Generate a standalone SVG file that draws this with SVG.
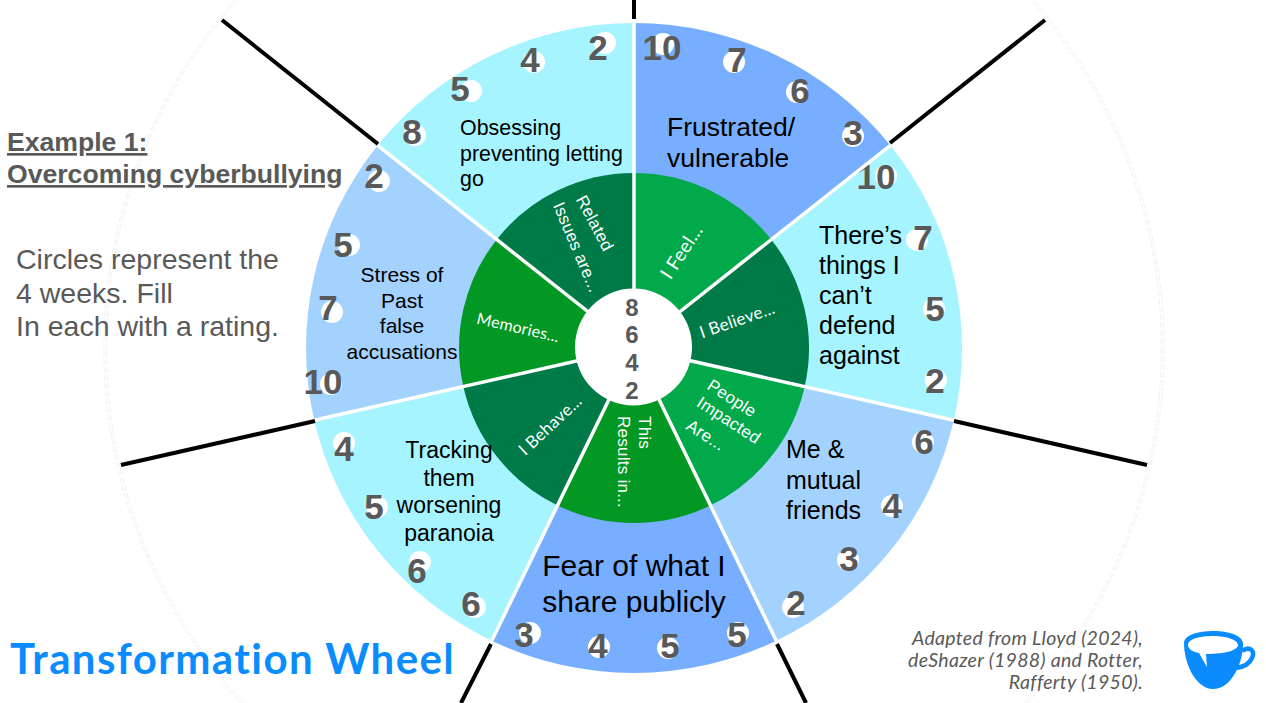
<svg xmlns="http://www.w3.org/2000/svg" width="1266" height="703" viewBox="0 0 1266 703">
  <style>
    text { font-family: "Liberation Sans", Arial, sans-serif; }
    .num { font-size: 35px; font-weight: 700; fill: #595959; text-anchor: middle; }
    .dot { fill: #fff; }
    .label { fill: #000; }
    .mid { text-anchor: middle; }
    .inner { font-family: "Lato", "Noto Sans", sans-serif; fill: #fff; letter-spacing: 0.25px; }
    .spoke { stroke: #fff; stroke-width: 3.5; fill: none; }
    .tick { stroke: #000; stroke-width: 4; fill: none; }
    .rim { stroke: #f0f0f0; stroke-width: 1; fill: none; stroke-dasharray: 6 2; }
    .blue { fill: #78aeff; } .cyan { fill: #a6f4ff; } .pale { fill: #a4d2ff; }
    .g1 { fill: #02a94b; } .g2 { fill: #007a47; } .g3 { fill: #029823; }
    .note { fill: #595959; }
  </style>

  <circle class="rim" cx="634" cy="348" r="530"/>
  <circle class="rim" cx="634" cy="348" r="527.5"/>

  <g id="sector-feel">
    <path class="blue" d="M634,348 L634,23 A328,325 0 0 1 890.4,145.4 Z"/>
    <path class="g1" d="M634,348 L634,173 A175,175 0 0 1 770.8,238.9 Z"/>
    <text class="inner mid" font-size="19" transform="translate(682,252) rotate(-57)" y="6">I Feel...</text>
    <text class="label" font-size="26.5"><tspan x="667" y="136">Frustrated/</tspan><tspan x="667" y="167">vulnerable</tspan></text>
    <circle class="dot" cx="663" cy="44" r="11"/><text class="num" x="662" y="60">10</text>
    <circle class="dot" cx="734" cy="62" r="11"/><text class="num" x="737" y="72">7</text>
    <circle class="dot" cx="797" cy="92" r="11"/><text class="num" x="800" y="103">6</text>
    <circle class="dot" cx="853" cy="136" r="11"/><text class="num" x="853" y="145">3</text>
  </g>

  <g id="sector-believe">
    <path class="cyan" d="M634,348 L890.4,145.4 A328,325 0 0 1 953.8,420.3 Z"/>
    <path class="g2" d="M634,348 L770.8,238.9 A175,175 0 0 1 804.6,386.9 Z"/>
    <text class="inner mid" font-size="17" transform="translate(737,320) rotate(-19)" y="6">I Believe...</text>
    <text class="label" font-size="25"><tspan x="819" y="244">There’s</tspan><tspan x="819" y="274">things I</tspan><tspan x="819" y="304">can’t</tspan><tspan x="819" y="334">defend</tspan><tspan x="819" y="364">against</tspan></text>
    <circle class="dot" cx="886" cy="176" r="11"/><text class="num" x="876" y="189">10</text>
    <circle class="dot" cx="917" cy="240" r="11"/><text class="num" x="923" y="250">7</text>
    <circle class="dot" cx="934" cy="309" r="11"/><text class="num" x="935" y="321">5</text>
    <circle class="dot" cx="936" cy="380" r="11"/><text class="num" x="935" y="393">2</text>
  </g>

  <g id="sector-people">
    <path class="pale" d="M634,348 L953.8,420.3 A328,325 0 0 1 776.3,640.8 Z"/>
    <path class="g1" d="M634,348 L804.6,386.9 A175,175 0 0 1 709.9,505.7 Z"/>
    <g class="inner" font-size="17" text-anchor="middle">
      <text transform="translate(732,398) rotate(33)" y="6">People</text>
      <text transform="translate(729,420) rotate(33)" y="6">Impacted</text>
      <text transform="translate(706,435) rotate(33)" y="6">Are...</text>
    </g>
    <text class="label" font-size="25"><tspan x="786" y="458">Me &amp;</tspan><tspan x="786" y="489">mutual</tspan><tspan x="786" y="519">friends</tspan></text>
    <circle class="dot" cx="923" cy="442" r="11"/><text class="num" x="924" y="454">6</text>
    <circle class="dot" cx="892" cy="506" r="11"/><text class="num" x="892" y="518">4</text>
    <circle class="dot" cx="848" cy="560" r="11"/><text class="num" x="849" y="571">3</text>
    <circle class="dot" cx="793" cy="607" r="11"/><text class="num" x="796" y="615">2</text>
  </g>

  <g id="sector-results">
    <path class="blue" d="M634,348 L776.3,640.8 A328,325 0 0 1 491.7,640.8 Z"/>
    <path class="g3" d="M634,348 L709.9,505.7 A175,175 0 0 1 558.1,505.7 Z"/>
    <g class="inner" font-size="17">
      <text transform="translate(639,416) rotate(90)">This</text>
      <text transform="translate(618,416) rotate(90)">Results in...</text>
    </g>
    <text class="label mid" font-size="30"><tspan x="634" y="576">Fear of what I</tspan><tspan x="634" y="612">share publicly</tspan></text>
    <circle class="dot" cx="530" cy="633" r="11"/><text class="num" x="524" y="647">3</text>
    <circle class="dot" cx="599" cy="647" r="11"/><text class="num" x="598" y="658">4</text>
    <circle class="dot" cx="668" cy="648" r="11"/><text class="num" x="670" y="658">5</text>
    <circle class="dot" cx="738" cy="633" r="11"/><text class="num" x="737" y="647">5</text>
  </g>

  <g id="sector-behave">
    <path class="cyan" d="M634,348 L491.7,640.8 A328,325 0 0 1 314.2,420.3 Z"/>
    <path class="g2" d="M634,348 L558.1,505.7 A175,175 0 0 1 463.4,386.9 Z"/>
    <text class="inner mid" font-size="17" transform="translate(550,425) rotate(-43)" y="6">I Behave...</text>
    <text class="label mid" font-size="23"><tspan x="449" y="458">Tracking</tspan><tspan x="449" y="486">them</tspan><tspan x="449" y="513">worsening</tspan><tspan x="449" y="541">paranoia</tspan></text>
    <circle class="dot" cx="344" cy="443" r="11"/><text class="num" x="344" y="461">4</text>
    <circle class="dot" cx="377" cy="507" r="11"/><text class="num" x="374" y="519">5</text>
    <circle class="dot" cx="420" cy="562" r="11"/><text class="num" x="417" y="583">6</text>
    <circle class="dot" cx="475" cy="607" r="11"/><text class="num" x="471" y="616">6</text>
  </g>

  <g id="sector-memories">
    <path class="pale" d="M634,348 L314.2,420.3 A328,325 0 0 1 377.6,145.4 Z"/>
    <path class="g3" d="M634,348 L463.4,386.9 A175,175 0 0 1 497.2,238.9 Z"/>
    <text class="inner mid" font-size="16" transform="translate(518,328) rotate(13)" y="5">Memories...</text>
    <text class="label mid" font-size="21"><tspan x="402" y="282">Stress of</tspan><tspan x="402" y="308">Past</tspan><tspan x="402" y="333">false</tspan><tspan x="402" y="359">accusations</tspan></text>
    <circle class="dot" cx="379" cy="181" r="11"/><text class="num" x="374" y="188">2</text>
    <circle class="dot" cx="349" cy="245" r="11"/><text class="num" x="343" y="257">5</text>
    <circle class="dot" cx="332" cy="312" r="11"/><text class="num" x="328" y="320">7</text>
    <circle class="dot" cx="331" cy="384" r="11"/><text class="num" x="323" y="394">10</text>
  </g>

  <g id="sector-related">
    <path class="cyan" d="M634,348 L377.6,145.4 A328,325 0 0 1 634,23 Z"/>
    <path class="g2" d="M634,348 L497.2,238.9 A175,175 0 0 1 634,173 Z"/>
    <g class="inner" font-size="17" text-anchor="middle">
      <text transform="translate(595,223) rotate(62)" y="6">Related</text>
      <text transform="translate(577,247) rotate(67)" y="6">Issues are...</text>
    </g>
    <text class="label" font-size="21.4"><tspan x="460" y="135">Obsessing</tspan><tspan x="460" y="161">preventing letting</tspan><tspan x="460" y="186">go</tspan></text>
    <circle class="dot" cx="605" cy="43" r="11"/><text class="num" x="598" y="60">2</text>
    <circle class="dot" cx="534" cy="62" r="11"/><text class="num" x="530" y="72">4</text>
    <circle class="dot" cx="471" cy="91" r="11"/><text class="num" x="460" y="101">5</text>
    <circle class="dot" cx="415" cy="135" r="11"/><text class="num" x="412" y="144">8</text>
  </g>

  <g id="connectors">
    <path class="spoke" d="M634,348 L634,23 M634,348 L890.4,145.4 M634,348 L953.8,420.3 M634,348 L776.3,640.8 M634,348 L491.7,640.8 M634,348 L314.2,420.3 M634,348 L377.6,145.4"/>
    <path class="tick" d="M634,0 L634,19 M890,143 L1045,20 M954,421 L1147,465 M777,644 L806,703 M491,644 L461,703 M315,421 L121,465 M378,144 L222,20"/>
  </g>

  <g id="hub">
    <circle cx="633.5" cy="347" r="58.5" fill="#fff"/>
    <g font-size="24" font-weight="700" fill="#595959" text-anchor="middle">
      <text x="632" y="316">8</text>
      <text x="632" y="343">6</text>
      <text x="632" y="371">4</text>
      <text x="632" y="399">2</text>
    </g>
  </g>

  <g id="example-heading" class="note" font-size="26.6" font-weight="700" text-decoration="underline">
    <text x="7" y="151">Example 1:</text>
    <text x="7" y="183">Overcoming cyberbullying</text>
  </g>

  <g id="instructions" class="note" font-size="28.5">
    <text x="16" y="269">Circles represent the</text>
    <text x="16" y="303">4 weeks. Fill</text>
    <text x="16" y="336">In each with a rating.</text>
  </g>

  <text id="title" x="10" y="674" font-size="42" font-weight="700" fill="#0a8cff" letter-spacing="1.4" style="font-family:'Lato','Noto Sans',sans-serif">Transformation Wheel</text>

  <g id="citation" class="note" font-size="19.5" font-style="italic" text-anchor="end" letter-spacing="0.3" style="font-family:'Lato','Noto Sans',sans-serif">
    <text style="font-family:inherit" x="1143" y="645">Adapted from Lloyd (2024),</text>
    <text style="font-family:inherit" x="1143" y="667">deShazer (1988) and Rotter,</text>
    <text style="font-family:inherit" x="1143" y="689">Rafferty (1950).</text>
  </g>

  <g id="cup-logo">
    <path d="M1242,651 C1251,645 1255,652 1252,658 C1249,665 1243,667 1236,668" fill="none" stroke="#0a8cff" stroke-width="4.5"/>
    <path d="M1184,643 C1184,635 1198,631 1213.500,631 C1230,631 1243,636 1243,644 C1243,662 1232,689 1213,689 C1196,689 1184,664 1184,643 Z" fill="#0a8cff"/>
    <path d="M1188,645 C1188,639 1200,636 1213,636 C1227,636 1238,640 1238,645 C1238,650 1226,654 1206,654 L1207,667 L1199,653 C1193,652 1188,649 1188,645 Z" fill="#fff"/>
  </g>
</svg>
